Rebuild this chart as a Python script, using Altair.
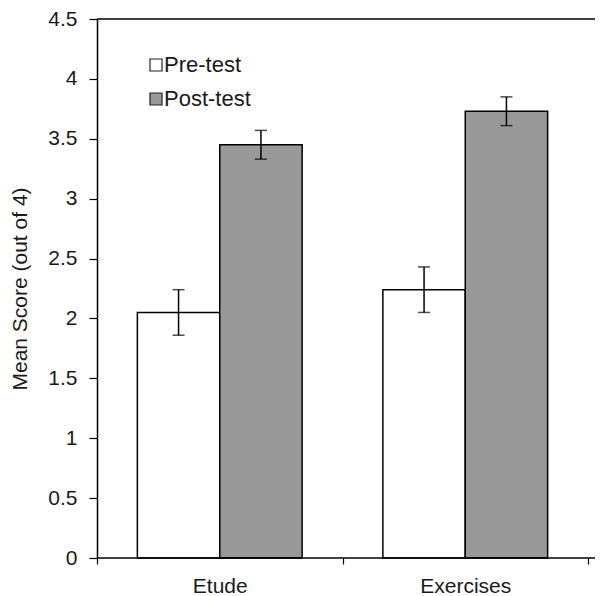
import altair as alt
import pandas as pd

groups = ["Etude", "Exercises"]
tests = ["Pre-test", "Post-test"]
pre_means = [2.05, 2.24]
post_means = [3.45, 3.73]
pre_errs = [0.19, 0.19]
post_errs = [0.12, 0.12]
y_ticks = [0, 0.5, 1, 1.5, 2, 2.5, 3, 3.5, 4, 4.5]

rows = []
for i, g in enumerate(groups):
    for t, m, e in (("Pre-test", pre_means[i], pre_errs[i]), ("Post-test", post_means[i], post_errs[i])):
        rows.append({"group": g, "test": t, "mean": m, "lo": m - e, "hi": m + e})
df = pd.DataFrame(rows)

FONT = "Liberation Sans"
TXT = "#1a1a1a"

x = alt.X("group:N", sort=groups,
          scale=alt.Scale(paddingInner=0, paddingOuter=0),
          axis=alt.Axis(title=None, tickBand="extent", labelAngle=0, domain=False,
                        tickSize=6, tickColor="black", tickWidth=1.2,
                        labelPadding=11, labelFontSize=21, labelFont=FONT,
                        labelColor=TXT))
xo = alt.XOffset("test:N", sort=tests, scale=alt.Scale(paddingInner=0, paddingOuter=0.49))
yscale = alt.Scale(domain=[0, 4.5], nice=False)

base = alt.Chart(df)

bars = base.mark_bar(stroke="black", strokeWidth=1.5).encode(
    x=x, xOffset=xo,
    y=alt.Y("mean:Q", scale=yscale,
            axis=alt.Axis(values=y_ticks, format="~g", title="Mean Score (out of 4)",
                          grid=False, domainColor="black", domainWidth=1.5,
                          tickColor="black", tickWidth=1.2, tickSize=8,
                          labelPadding=12, labelFontSize=21, labelFont=FONT,
                          labelColor=TXT, titleFontSize=21, titleFont=FONT,
                          titleFontWeight="normal", titleColor=TXT,
                          titlePadding=17)),
    color=alt.Color("test:N", sort=tests,
                    scale=alt.Scale(domain=tests, range=["white", "#999999"]),
                    legend=alt.Legend(orient="none", legendX=48, legendY=35, title=None,
                                      symbolType="square", symbolSize=144,
                                      symbolStrokeColor="#222222", symbolStrokeWidth=1.2,
                                      labelFontSize=22, labelFont=FONT,
                                      labelColor=TXT, labelOffset={"expr": "-3"},
                                      rowPadding=12)),
)

err = base.mark_rule(color="black", strokeWidth=1.5).encode(
    x=x, xOffset=xo, y=alt.Y("lo:Q", scale=yscale), y2="hi:Q")
cap_lo = base.mark_tick(color="black", thickness=1.5, size=12, orient="horizontal").encode(
    x=x, xOffset=xo, y=alt.Y("lo:Q", scale=yscale))
cap_hi = base.mark_tick(color="black", thickness=1.5, size=12, orient="horizontal").encode(
    x=x, xOffset=xo, y=alt.Y("hi:Q", scale=yscale))

top_line = alt.Chart(pd.DataFrame({"v": [4.5]})).mark_rule(color="black", strokeWidth=1.5).encode(
    y=alt.Y("v:Q", scale=yscale), x=alt.value(0), x2=alt.value(498))
bottom_line = alt.Chart(pd.DataFrame({"v": [0]})).mark_rule(color="black", strokeWidth=1.5).encode(
    y=alt.Y("v:Q", scale=yscale), x=alt.value(0), x2=alt.value(498))

chart = alt.layer(bars, err, cap_lo, cap_hi, top_line, bottom_line).properties(
    width=491, height=539,
    autosize=alt.AutoSizeParams(type="none"),
    padding={"left": 89, "top": 11, "right": 7, "bottom": 38},
).configure_view(stroke=None)

chart.save("out.html", embed_options={"renderer": "svg", "actions": False})
